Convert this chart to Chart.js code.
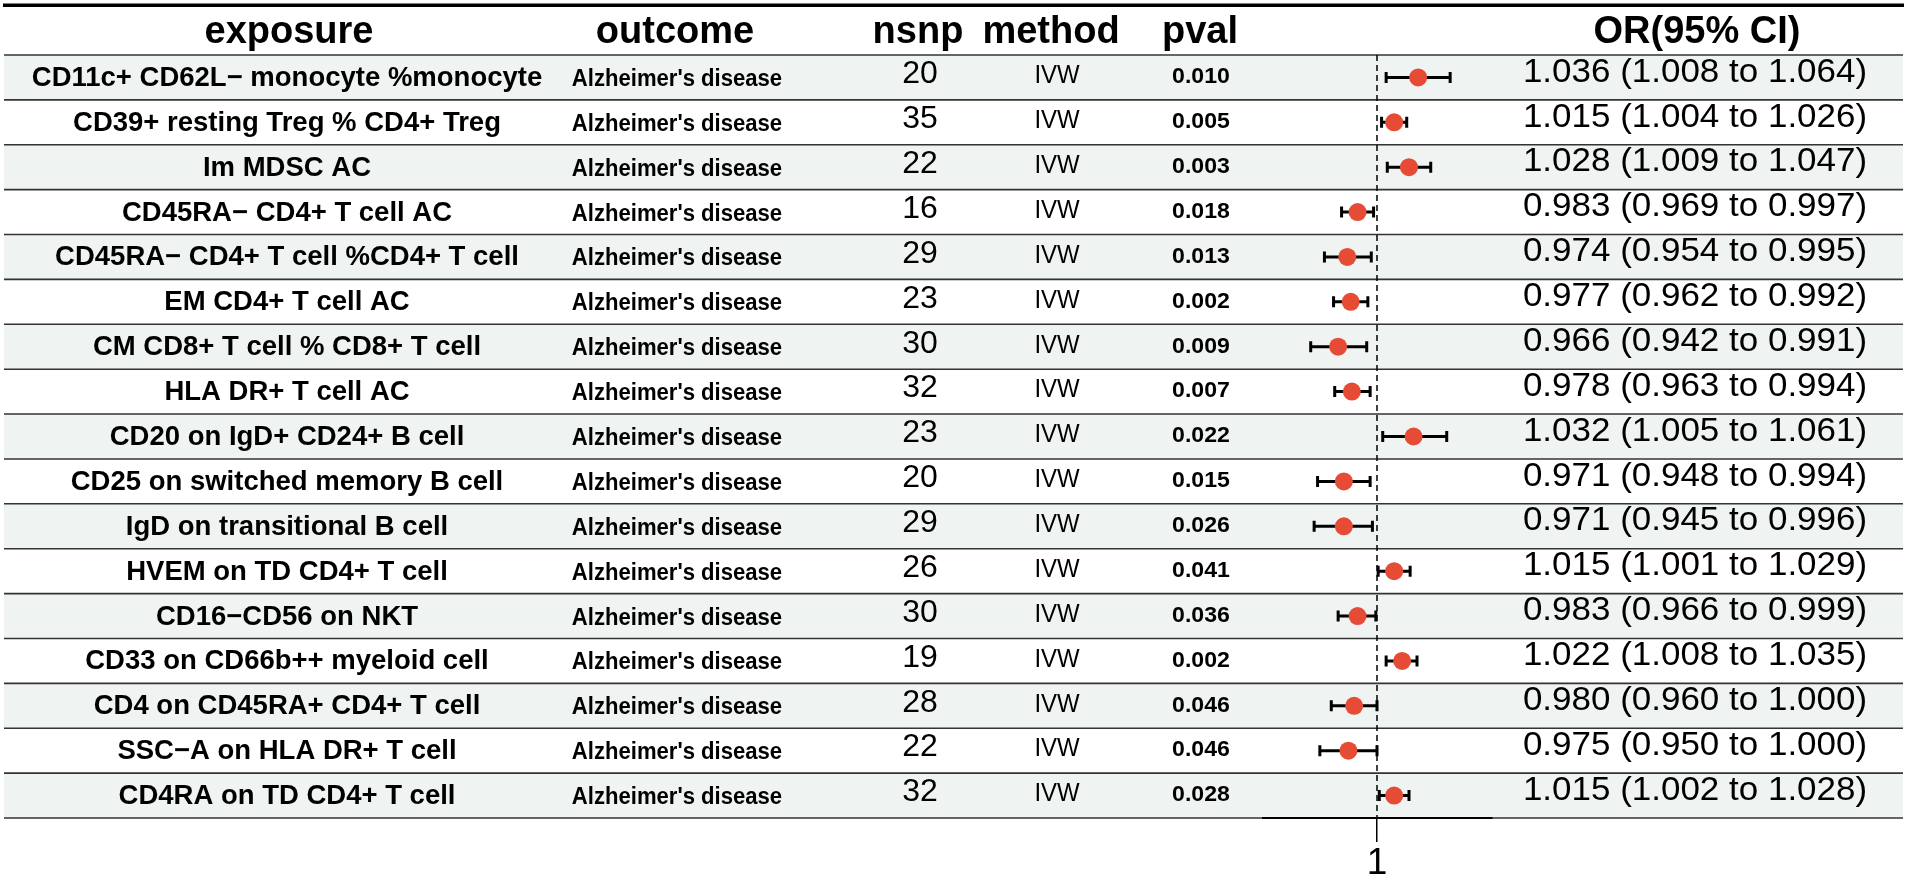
<!DOCTYPE html>
<html>
<head>
<meta charset="utf-8">
<title>Forest plot</title>
<script src="https://cdn.jsdelivr.net/npm/chart.js@4.4.1/dist/chart.umd.min.js"></script>
<style>
  html, body { margin: 0; padding: 0; background: #fff; }
  #wrap { width: 1907px; height: 886px; position: relative; }
</style>
</head>
<body>
<div id="wrap"><canvas id="forest"></canvas></div>
<script>
const headers = ['exposure', 'outcome', 'nsnp', 'method', 'pval', 'OR(95% CI)'];

const exposures = [
    'CD11c+ CD62L\u2212 monocyte %monocyte',
    'CD39+ resting Treg % CD4+ Treg',
    'Im MDSC AC',
    'CD45RA\u2212 CD4+ T cell AC',
    'CD45RA\u2212 CD4+ T cell %CD4+ T cell',
    'EM CD4+ T cell AC',
    'CM CD8+ T cell % CD8+ T cell',
    'HLA DR+ T cell AC',
    'CD20 on IgD+ CD24+ B cell',
    'CD25 on switched memory B cell',
    'IgD on transitional B cell',
    'HVEM on TD CD4+ T cell',
    'CD16\u2212CD56 on NKT',
    'CD33 on CD66b++ myeloid cell',
    'CD4 on CD45RA+ CD4+ T cell',
    'SSC\u2212A on HLA DR+ T cell',
    'CD4RA on TD CD4+ T cell'
];
const outcomes = exposures.map(() => "Alzheimer's disease");
const methods = exposures.map(() => 'IVW');
const nsnp = [20, 35, 22, 16, 29, 23, 30, 32, 23, 20, 29, 26, 30, 19, 28, 22, 32];
const pvals = ['0.010', '0.005', '0.003', '0.018', '0.013', '0.002', '0.009', '0.007', '0.022',
               '0.015', '0.026', '0.041', '0.036', '0.002', '0.046', '0.046', '0.028'];
const orValues = [1.036, 1.015, 1.028, 0.983, 0.974, 0.977, 0.966, 0.978, 1.032,
                  0.971, 0.971, 1.015, 0.983, 1.022, 0.980, 0.975, 1.015];
const ciLow = [1.008, 1.004, 1.009, 0.969, 0.954, 0.962, 0.942, 0.963, 1.005,
               0.948, 0.945, 1.001, 0.966, 1.008, 0.960, 0.950, 1.002];
const ciHigh = [1.064, 1.026, 1.047, 0.997, 0.995, 0.992, 0.991, 0.994, 1.061,
                0.994, 0.996, 1.029, 0.999, 1.035, 1.000, 1.000, 1.028];
const xTicks = [1];

const FONT = '"Liberation Sans", Arial, Helvetica, sans-serif';
const nRows = exposures.length;

// text columns: header centre, cell centre, font, horizontal squeeze, baseline offset
const columns = [
    { hx: 289,  x: 287,  font: 'bold 27.5px ' + FONT, sx: 1.0,  dy: 8.5, get: i => exposures[i] },
    { hx: 675,  x: 677,  font: 'bold 23.5px ' + FONT, sx: 0.94, dy: 8.5, get: i => outcomes[i] },
    { hx: 918,  x: 920,  font: '32px ' + FONT,        sx: 1.0,  dy: 5.8, get: i => String(nsnp[i]) },
    { hx: 1051, x: 1057, font: '26px ' + FONT,        sx: 0.92, dy: 5.8, get: i => methods[i] },
    { hx: 1200, x: 1201, font: 'bold 22px ' + FONT,   sx: 1.05, dy: 5.8, get: i => pvals[i] },
    { hx: 1697, x: 1695, font: '33px ' + FONT,        sx: 1.06, dy: 4.2,
      get: i => orValues[i].toFixed(3) + ' (' + ciLow[i].toFixed(3) + ' to ' + ciHigh[i].toFixed(3) + ')' }
];

function drawText(ctx, text, x, y, font, sx) {
    ctx.save();
    ctx.font = font;
    ctx.textAlign = 'center';
    ctx.textBaseline = 'alphabetic';
    ctx.fillStyle = '#000';
    ctx.translate(x, y);
    ctx.scale(sx, 1);
    ctx.fillText(text, 0, 0);
    ctx.restore();
}

const tablePlugin = {
    id: 'forestTable',
    beforeDraw(chart) {
        const ctx = chart.ctx;
        const y = chart.scales.y;
        const left = 4, right = 1903;
        ctx.save();
        // striped row backgrounds
        for (let i = 0; i < nRows; i++) {
            if (i % 2 === 0) {
                const top = y.getPixelForValue(i - 0.5);
                const bottom = y.getPixelForValue(i + 0.5);
                ctx.fillStyle = '#eff3f2';
                ctx.fillRect(left, top, right - left, bottom - top);
            }
        }
        // row separators
        ctx.strokeStyle = '#333';
        ctx.lineWidth = 1.6;
        for (let i = 0; i <= nRows; i++) {
            const py = y.getPixelForValue(i - 0.5);
            ctx.beginPath();
            ctx.moveTo(left, py);
            ctx.lineTo(right, py);
            ctx.stroke();
        }
        // thick top rule
        ctx.strokeStyle = '#000';
        ctx.lineWidth = 3.6;
        ctx.beginPath();
        ctx.moveTo(3, 5.3);
        ctx.lineTo(1904, 5.3);
        ctx.stroke();
        ctx.restore();
    },
    afterDraw(chart) {
        const ctx = chart.ctx;
        const y = chart.scales.y;
        columns.forEach((c, ci) => {
            drawText(ctx, headers[ci], c.hx, 42.5, 'bold 38px ' + FONT, 1.0);
            for (let i = 0; i < nRows; i++) {
                drawText(ctx, c.get(i), c.x, y.getPixelForValue(i) + c.dy, c.font, c.sx);
            }
        });
    }
};

// whiskers as one line with gaps between rows
const whiskerData = [];
orValues.forEach((v, i) => {
    whiskerData.push({ x: ciLow[i], y: i });
    whiskerData.push({ x: ciHigh[i], y: i });
    whiskerData.push({ x: ciHigh[i], y: null });
});
const capData = [];
orValues.forEach((v, i) => {
    capData.push({ x: ciLow[i], y: i });
    capData.push({ x: ciHigh[i], y: i });
});

new Chart(document.getElementById('forest'), {
    type: 'scatter',
    data: {
        datasets: [
            {
                label: 'OR',
                data: orValues.map((v, i) => ({ x: v, y: i })),
                backgroundColor: '#e64b35',
                borderWidth: 0,
                pointRadius: 9,
                order: 0
            },
            {
                label: 'caps',
                data: capData,
                pointStyle: 'line',
                rotation: 90,
                pointRadius: 5.5,
                borderColor: '#000',
                borderWidth: 3,
                order: 1
            },
            {
                type: 'line',
                label: 'CI',
                data: whiskerData,
                borderColor: '#000',
                borderWidth: 3,
                pointRadius: 0,
                spanGaps: false,
                order: 1
            },
            {
                type: 'line',
                label: 'ref',
                data: [{ x: 1, y: -0.5 }, { x: 1, y: nRows - 0.5 }],
                borderColor: '#000',
                borderWidth: 1.5,
                borderDash: [6, 4],
                pointRadius: 0,
                order: 2
            }
        ]
    },
    options: {
        responsive: true,
        maintainAspectRatio: false,
        animation: false,
        events: [],
        layout: {
            padding: { left: 1262.7, right: 415.7, top: 55, bottom: 1 }
        },
        plugins: {
            legend: { display: false },
            tooltip: { enabled: false }
        },
        scales: {
            x: {
                type: 'linear',
                min: 0.9,
                max: 1.1,
                afterBuildTicks: function (scale) {
                    scale.ticks = xTicks.map(v => ({ value: v }));
                },
                ticks: {
                    color: '#000',
                    padding: 3,
                    font: { family: FONT, size: 37, lineHeight: 1 },
                    callback: function (value) { return String(value); }
                },
                grid: {
                    drawOnChartArea: false,
                    drawTicks: true,
                    tickLength: 24,
                    color: '#000',
                    lineWidth: 1.5
                },
                border: {
                    display: true,
                    color: '#000',
                    width: 2
                }
            },
            y: {
                type: 'linear',
                min: -0.5,
                max: nRows - 0.5,
                reverse: true,
                display: false
            }
        }
    },
    plugins: [tablePlugin]
});
</script>
</body>
</html>
